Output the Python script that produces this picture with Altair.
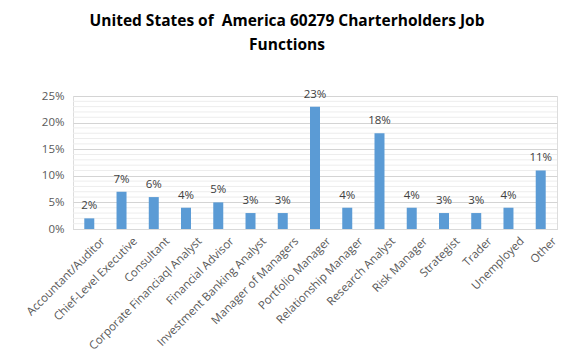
import altair as alt
import pandas as pd

categories = ["Accountant/Auditor", "Chief-Level Executive", "Consultant",
              "Corporate Financiaql Analyst", "Financial Advisor",
              "Investment Banking Analyst", "Manager of Managers",
              "Portfolio Manager", "Relationship Manager", "Research Analyst",
              "Risk Manager", "Strategist", "Trader", "Unemployed", "Other"]
values = [0.02, 0.07, 0.06, 0.04, 0.05, 0.03, 0.03, 0.23, 0.04, 0.18,
          0.04, 0.03, 0.03, 0.04, 0.11]
major_ticks = [0.0, 0.05, 0.10, 0.15, 0.20, 0.25]
minor_ticks = [0.01, 0.02, 0.03, 0.04, 0.06, 0.07, 0.08, 0.09, 0.11, 0.12,
               0.13, 0.14, 0.16, 0.17, 0.18, 0.19, 0.21, 0.22, 0.23, 0.24]

df = pd.DataFrame({"cat": categories, "val": values})
minor_df = pd.DataFrame({"v": minor_ticks})

FONT = "Open Sans"

yscale = alt.Scale(domain=[0, 0.25], nice=False)
yaxis = alt.Axis(values=major_ticks, format=".0%", labelOverlap=False,
                 labelFontSize=11.5, labelColor="#595959", labelFont=FONT,
                 ticks=False, domain=False, labelPadding=9,
                 grid=True, gridColor="#d4d4d4")

x = alt.X("cat:N", sort=categories, title=None,
          scale=alt.Scale(paddingInner=0.69, paddingOuter=0.35),
          axis=alt.Axis(labelAngle=-45, labelAlign="right", labelBaseline="top",
                        labelFontSize=11.5, labelColor="#595959", labelFont=FONT,
                        ticks=False, domainColor="#d9d9d9", labelPadding=6,
                        labelOffset=10, labelLimit=300))

minor = alt.Chart(minor_df).mark_rule(color="#ededed", strokeWidth=1).encode(
    y=alt.Y("v:Q", scale=yscale, axis=yaxis, title=None))
bars = alt.Chart(df).mark_bar(color="#5B9BD5").encode(
    x=x, y=alt.Y("val:Q", scale=yscale, axis=yaxis, title=None))
labels = alt.Chart(df).mark_text(baseline="bottom", dy=-7, fontSize=11.5,
                                 color="#404040", font=FONT).encode(
    x=alt.X("cat:N", sort=categories),
    y=alt.Y("val:Q", scale=yscale, axis=yaxis, title=None),
    text=alt.Text("val:Q", format=".0%"))

chart = alt.layer(minor, bars, labels).properties(
    width=484, height=133,
    title=alt.TitleParams(
        ["United States of\u00a0 America 60279 Charterholders Job", "Functions"],
        fontSize=15.5, font=FONT, fontWeight="bold", color="#000000",
        anchor="middle", dx=-28, offset=35, lineHeight=24),
    autosize=alt.AutoSizeParams(type="none"),
    padding={"left": 65, "top": 88, "right": 8, "bottom": 120},
).configure_view(stroke=None).configure(background="#ffffff")

chart.save("out.html", embed_options={"renderer": "svg", "actions": False})
